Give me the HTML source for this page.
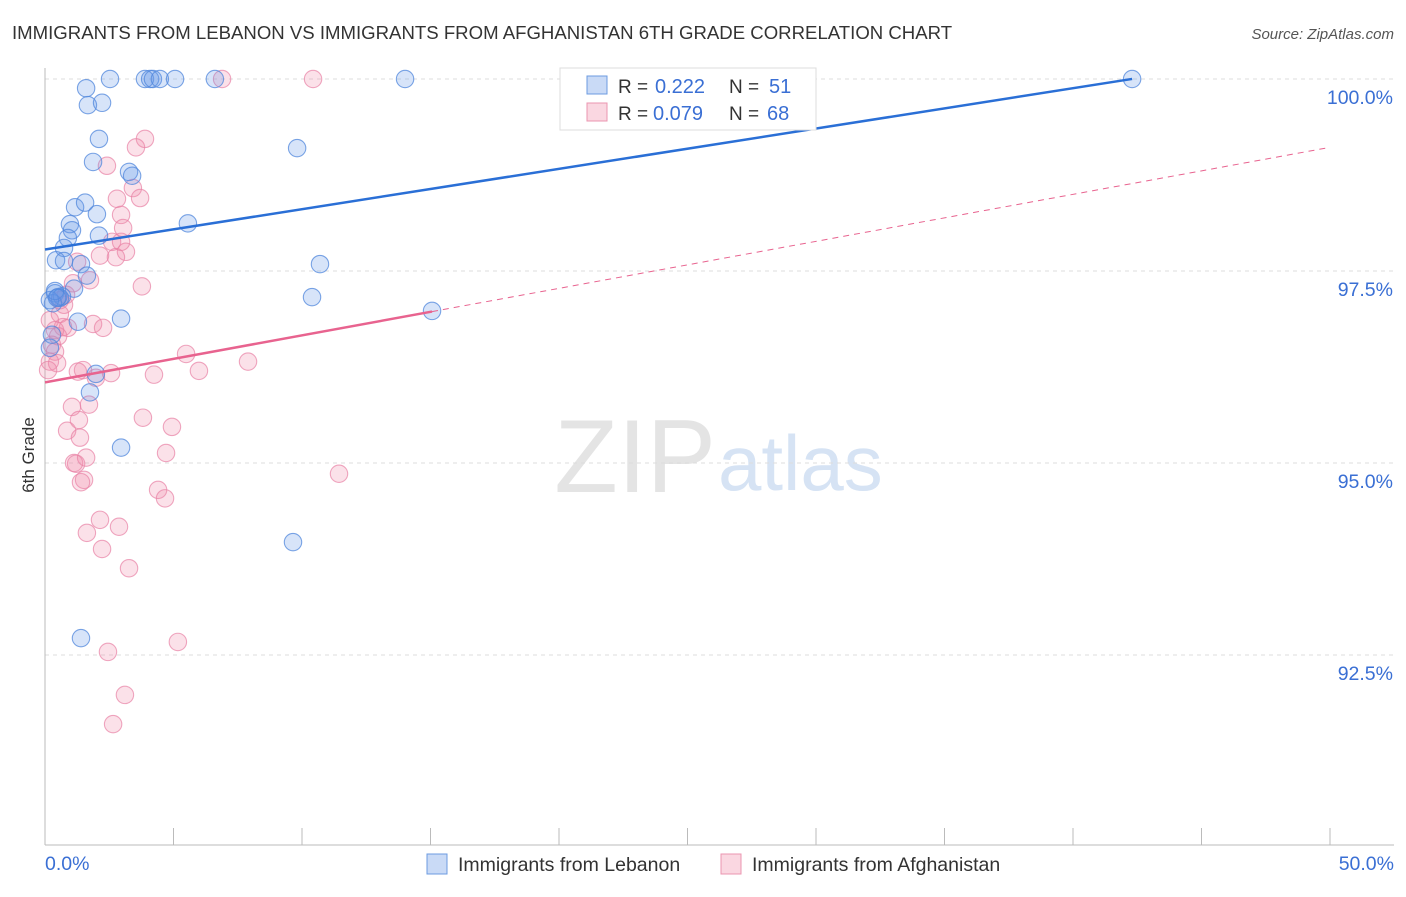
<!DOCTYPE html>
<html><head><meta charset="utf-8">
<style>
body{margin:0;background:#fff;font-family:"Liberation Sans",sans-serif;}
svg text{font-family:"Liberation Sans",sans-serif;}
</style></head>
<body>
<svg id="chart" width="1406" height="892" xmlns="http://www.w3.org/2000/svg">
<text x="12" y="39" font-size="18.6" fill="#333">IMMIGRANTS FROM LEBANON VS IMMIGRANTS FROM AFGHANISTAN 6TH GRADE CORRELATION CHART</text>
<text x="1394" y="39" font-size="15" fill="#555" text-anchor="end" font-style="italic">Source: ZipAtlas.com</text>
<text x="716" y="492" font-size="104" fill="#e4e4e4" text-anchor="end" font-family="Liberation Serif">ZIP</text>
<text x="718" y="490" font-size="78" fill="#d6e3f4">atlas</text>
<text transform="translate(34,455) rotate(-90)" font-size="17" fill="#333" text-anchor="middle">6th Grade</text>
<g id="grid"></g>
<g id="marks"></g>
<g id="lines"></g>
<g>
<rect x="560" y="68" width="256" height="62" fill="#fff" stroke="#ddd"/>
<rect x="587" y="76" width="20" height="18" fill="rgba(100,150,230,0.35)" stroke="#6c9be0"/>
<text x="618" y="93" font-size="19" fill="#333">R =</text>
<text x="655" y="93" font-size="20" fill="#3a6fd4">0.222</text>
<text x="729" y="93" font-size="19" fill="#333">N =</text>
<text x="769" y="93" font-size="20" fill="#3a6fd4">51</text>
<rect x="587" y="103" width="20" height="18" fill="rgba(240,140,170,0.35)" stroke="#eb95b0"/>
<text x="618" y="120" font-size="19" fill="#333">R =</text>
<text x="653" y="120" font-size="20" fill="#3a6fd4">0.079</text>
<text x="729" y="120" font-size="19" fill="#333">N =</text>
<text x="767" y="120" font-size="20" fill="#3a6fd4">68</text>
</g>
<g>
<rect x="427" y="854" width="20" height="20" fill="rgba(100,150,230,0.35)" stroke="#6c9be0"/>
<text x="458" y="871" font-size="19.5" fill="#333">Immigrants from Lebanon</text>
<rect x="721" y="854" width="20" height="20" fill="rgba(240,140,170,0.35)" stroke="#eb95b0"/>
<text x="752" y="871" font-size="19.5" fill="#333">Immigrants from Afghanistan</text>
</g>
</svg>
<script>
const yTicks=[100,97.5,95,92.5];
const yTickLabels=["100.0%","97.5%","95.0%","92.5%"];
const xTickCount=10;
const xLabels=["0.0%","50.0%"];
const lebX=[2.53,3.89,4.09,4.20,4.47,5.06,6.61,14.01,42.30,1.60,1.67,2.22,2.10,9.81,1.87,3.27,3.39,1.17,1.56,2.02,5.56,0.97,1.05,0.89,0.74,2.10,0.43,0.74,1.40,10.70,1.13,0.39,0.58,0.51,0.66,10.39,0.31,2.96,1.28,15.06,0.27,0.19,1.98,1.75,2.96,9.65,1.40,0.19,0.39,1.63,0.47];
const lebY=[100,100,100,100,100,100,100,100,100,99.88,99.66,99.69,99.22,99.10,98.92,98.79,98.74,98.33,98.39,98.24,98.12,98.11,98.03,97.93,97.80,97.96,97.64,97.63,97.59,97.59,97.27,97.21,97.15,97.16,97.17,97.16,97.08,96.88,96.84,96.98,96.67,96.50,96.16,95.92,95.20,93.97,92.72,97.12,97.24,97.44,97.15];
const afgX=[6.89,10.43,3.89,3.54,2.41,3.42,2.80,3.70,2.96,3.04,2.61,3.15,2.14,2.76,1.25,3.77,1.75,1.09,0.74,0.58,0.70,0.89,1.87,2.26,0.19,0.39,0.51,0.27,0.39,0.19,0.47,0.12,5.49,7.90,1.48,2.57,1.98,4.24,5.99,1.05,1.71,0.86,1.32,1.36,3.81,4.94,4.71,1.13,1.21,1.60,1.52,1.40,4.40,4.67,11.44,2.14,1.63,2.88,2.22,3.27,5.17,2.45,3.11,2.65,2.96,0.58,0.82,1.28];
const afgY=[100,100,99.22,99.11,98.87,98.58,98.44,98.45,98.23,98.06,97.88,97.75,97.70,97.68,97.62,97.30,97.38,97.34,97.06,96.94,96.77,96.76,96.81,96.76,96.86,96.73,96.65,96.54,96.45,96.32,96.30,96.21,96.42,96.32,96.21,96.17,96.11,96.15,96.20,95.73,95.76,95.42,95.56,95.33,95.59,95.47,95.13,95.00,94.99,95.07,94.78,94.75,94.65,94.54,94.86,94.26,94.09,94.17,93.88,93.63,92.67,92.54,91.98,91.60,97.88,97.12,97.19,96.19];
const lebTrend=[97.78,0.0525]; // intercept, slope
const afgTrend=[96.05,0.0612];
const afgSolidEnd=15.06;
const lebTrendEnd=42.3;

const NS="http://www.w3.org/2000/svg";
const X0=45,X1=1330,Y100=79,PX_PER=192/2.5;
const sx=v=>X0+(X1-X0)*v/50;
const sy=v=>Y100+(100-v)*PX_PER;
function mk(tag,attrs,parent){const e=document.createElementNS(NS,tag);for(const k in attrs)e.setAttribute(k,attrs[k]);parent.appendChild(e);return e;}
const grid=document.getElementById('grid'),marks=document.getElementById('marks'),lines=document.getElementById('lines');
yTicks.forEach((t,i)=>{
 const l=mk('line',{x1:X0,x2:1394,y1:sy(t),y2:sy(t),stroke:'#ddd','stroke-dasharray':'4,4'},grid);
 
 
 const tx=mk('text',{x:1393,y:sy(t)+25,'font-size':19.5,fill:'#3a6fd4','text-anchor':'end'},grid);
 tx.textContent=yTickLabels[i];
 
 
});
const ax=mk('line',{x1:X0,x2:X0,y1:68,y2:845,stroke:'#bbb'},grid);


const bx=mk('line',{x1:X0,x2:1394,y1:845,y2:845,stroke:'#bbb'},grid);


for(let i=0;i<=xTickCount;i++){
 const v=50*i/xTickCount;
 const t=mk('line',{x1:sx(v),x2:sx(v),y1:828,y2:845,stroke:'#bbb'},grid);
 
 
}
const xl0=mk('text',{x:45,y:870,'font-size':19.5,fill:'#3a6fd4'},grid);xl0.textContent=xLabels[0];


const xl1=mk('text',{x:1394,y:870,'font-size':19.5,fill:'#3a6fd4','text-anchor':'end'},grid);xl1.textContent=xLabels[1];



afgX.forEach((v,i)=>{
 const c=mk('circle',{cx:sx(v),cy:sy(afgY[i]),r:8.7,fill:'rgba(240,140,170,0.26)',stroke:'rgba(232,130,165,0.7)','stroke-width':1.1},marks);
 
 
});
lebX.forEach((v,i)=>{
 const c=mk('circle',{cx:sx(v),cy:sy(lebY[i]),r:8.7,fill:'rgba(100,150,230,0.26)',stroke:'rgba(80,135,220,0.75)','stroke-width':1.1},marks);
 
 
});
const bl=mk('line',{x1:sx(0),y1:sy(lebTrend[0]),x2:sx(lebTrendEnd),y2:sy(lebTrend[0]+lebTrend[1]*lebTrendEnd),stroke:'#2a6fd6','stroke-width':2.5},lines);


const pl=mk('line',{x1:sx(0),y1:sy(afgTrend[0]),x2:sx(afgSolidEnd),y2:sy(afgTrend[0]+afgTrend[1]*afgSolidEnd),stroke:'#e8638f','stroke-width':2.5},lines);


const pd=mk('line',{x1:sx(afgSolidEnd),y1:sy(afgTrend[0]+afgTrend[1]*afgSolidEnd),x2:sx(50),y2:sy(afgTrend[0]+afgTrend[1]*50),stroke:'#e8638f','stroke-width':1,'stroke-dasharray':'6,5'},lines);


</script>
</body></html>
